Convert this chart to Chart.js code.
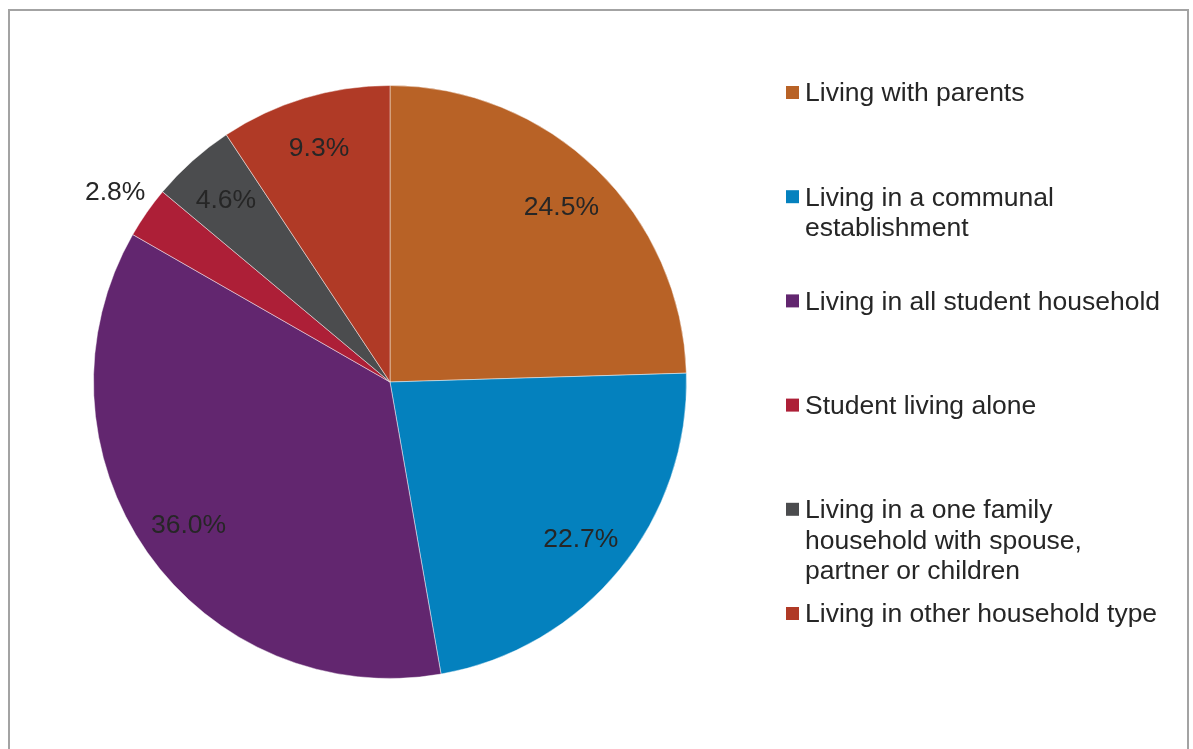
<!DOCTYPE html>
<html>
<head>
<meta charset="utf-8">
<script src="https://cdn.jsdelivr.net/npm/chart.js@4.4.1/dist/chart.umd.min.js"></script>
<style>
  html, body { margin: 0; padding: 0; background: #fff; overflow: hidden; }
  #frame {
    position: absolute; left: 8px; top: 9px;
    width: 1177px; height: 800px;
    border: 2px solid #a3a3a3;
  }
  #chart { position: absolute; left: 0; top: 0; }
</style>
</head>
<body>
<div id="frame"></div>
<canvas id="chart" width="1193" height="749"></canvas>
<script>
// Living arrangements of students - share of total (%)
const categories = [
  ["Living with parents"],
  ["Living in a communal", "establishment"],
  ["Living in all student household"],
  ["Student living alone"],
  ["Living in a one family", "household with spouse,", "partner or children"],
  ["Living in other household type"],
];
const shares = [24.5, 22.7, 36.0, 2.8, 4.6, 9.3];
const sliceColors = ["#b86226", "#0481be", "#62266f", "#ad1f37", "#4b4c4e", "#b03a26"];

const textColor = "#262626";
const fontFamily = '"Liberation Sans", Arial, sans-serif';

// draws the percentage labels at each slice, small slices go outside
const sliceLabels = {
  id: "sliceLabels",
  afterDatasetsDraw(chart) {
    const ctx = chart.ctx;
    const meta = chart.getDatasetMeta(0);
    const values = chart.data.datasets[0].data;
    ctx.save();
    ctx.font = "26.5px " + fontFamily;
    ctx.fillStyle = textColor;
    ctx.textAlign = "center";
    ctx.textBaseline = "middle";
    meta.data.forEach((arc, i) => {
      const p = arc.getProps(["x", "y", "startAngle", "endAngle", "outerRadius"], true);
      const mid = (p.startAngle + p.endAngle) / 2;
      const f = values[i] < 3 ? 1.13 : 0.83;
      const x = p.x + Math.cos(mid) * p.outerRadius * f;
      const y = p.y + Math.sin(mid) * p.outerRadius * f;
      ctx.fillText(values[i].toFixed(1) + "%", x, y + 2);
    });
    ctx.restore();
  },
};

// legend on the right, one entry every 104px like the original
const sideLegend = {
  id: "sideLegend",
  afterDraw(chart) {
    const ctx = chart.ctx;
    const colors = chart.data.datasets[0].backgroundColor;
    ctx.save();
    ctx.font = "26.5px " + fontFamily;
    ctx.textBaseline = "middle";
    ctx.textAlign = "left";
    chart.data.labels.forEach((lines, i) => {
      const y0 = 92 + i * 104.2;
      ctx.fillStyle = colors[i];
      ctx.fillRect(786, y0 - 6, 13, 13);
      ctx.fillStyle = textColor;
      lines.forEach((line, j) => {
        ctx.fillText(line, 805, y0 + 2 + j * 30.5);
      });
    });
    ctx.restore();
  },
};

new Chart(document.getElementById("chart"), {
  type: "pie",
  data: {
    labels: categories,
    datasets: [
      {
        data: shares,
        backgroundColor: sliceColors,
        borderColor: "rgba(255,255,255,0.45)",
        borderWidth: 1,
      },
    ],
  },
  options: {
    responsive: false,
    devicePixelRatio: 1,
    animation: false,
    events: [],
    layout: { padding: { left: 93, top: 85, right: 506, bottom: 70 } },
    plugins: {
      legend: { display: false },
      tooltip: { enabled: false },
    },
  },
  plugins: [sliceLabels, sideLegend],
});
</script>
</body>
</html>
